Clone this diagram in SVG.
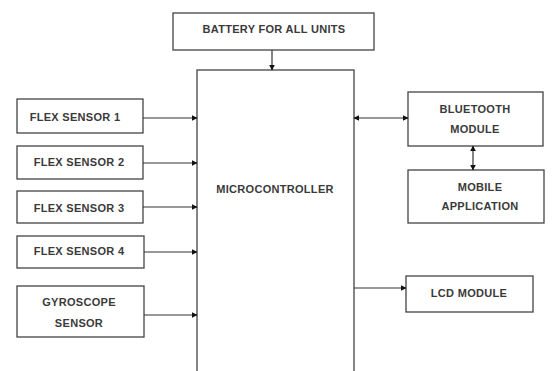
<svg xmlns="http://www.w3.org/2000/svg" width="552" height="371" viewBox="0 0 552 371">
<style>
.box{fill:#fff;stroke:#444;stroke-width:1.3}
.t{font-family:"Liberation Sans",Arial,sans-serif;font-weight:bold;font-size:11px;letter-spacing:0.3px;fill:#3a3a3a;text-anchor:middle}
.c{stroke:#333;stroke-width:1.2;fill:none}
</style>
<defs>
<marker id="ah" viewBox="0 0 10 10" refX="9" refY="5" markerWidth="6" markerHeight="6" orient="auto-start-reverse" markerUnits="userSpaceOnUse">
<path d="M0,0 L10,5 L0,10 z" fill="#111"/>
</marker>
</defs>
<rect width="552" height="371" fill="#fff"/>
<g id="battery"><rect class="box" x="173" y="13" width="201" height="37"/><text class="t" x="274" y="33" font-size="11.5">BATTERY FOR ALL UNITS</text></g>
<g id="micro"><rect class="box" x="197" y="70" width="157" height="310"/><text class="t" x="275" y="193" font-size="11.5">MICROCONTROLLER</text></g>
<g id="flex1"><rect class="box" x="17" y="99" width="126" height="34"/><text class="t" x="75" y="121">FLEX SENSOR 1</text></g>
<g id="flex2"><rect class="box" x="17" y="146" width="126" height="33"/><text class="t" x="79" y="166">FLEX SENSOR 2</text></g>
<g id="flex3"><rect class="box" x="17" y="191" width="126" height="32"/><text class="t" x="79" y="212">FLEX SENSOR 3</text></g>
<g id="flex4"><rect class="box" x="17" y="236" width="127" height="32"/><text class="t" x="79" y="255">FLEX SENSOR 4</text></g>
<g id="gyro"><rect class="box" x="17" y="286" width="127" height="51"/><text class="t" x="79" y="306">GYROSCOPE</text><text class="t" x="79" y="327">SENSOR</text></g>
<g id="bluetooth"><rect class="box" x="408" y="92" width="135" height="54"/><text class="t" x="475" y="113">BLUETOOTH</text><text class="t" x="475" y="133">MODULE</text></g>
<g id="mobile"><rect class="box" x="408" y="170" width="136" height="53"/><text class="t" x="480" y="191">MOBILE</text><text class="t" x="480" y="210">APPLICATION</text></g>
<g id="lcd"><rect class="box" x="406" y="276" width="127" height="36"/><text class="t" x="469" y="297">LCD MODULE</text></g>
<g id="connectors">
<line class="c" x1="272" y1="50" x2="272" y2="70" marker-end="url(#ah)"/>
<line class="c" x1="143" y1="118" x2="197" y2="118" marker-end="url(#ah)"/>
<line class="c" x1="143" y1="163" x2="197" y2="163" marker-end="url(#ah)"/>
<line class="c" x1="143" y1="207" x2="197" y2="207" marker-end="url(#ah)"/>
<line class="c" x1="144" y1="252" x2="197" y2="252" marker-end="url(#ah)"/>
<line class="c" x1="144" y1="315" x2="197" y2="315" marker-end="url(#ah)"/>
<line class="c" x1="354" y1="118" x2="408" y2="118" marker-start="url(#ah)" marker-end="url(#ah)"/>
<line class="c" x1="473" y1="146" x2="473" y2="170" marker-start="url(#ah)" marker-end="url(#ah)"/>
<line class="c" x1="354" y1="288" x2="406" y2="288" marker-end="url(#ah)"/>
</g>
</svg>
